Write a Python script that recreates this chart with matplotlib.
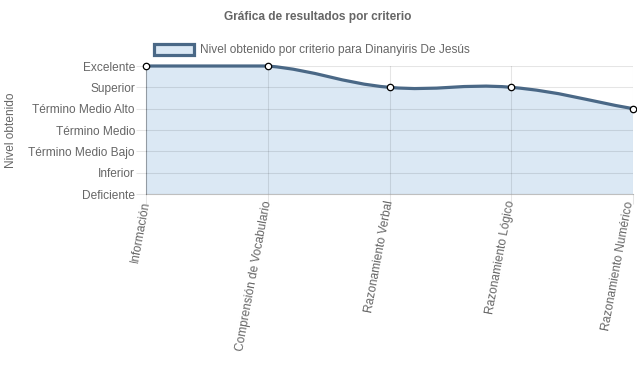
import numpy as np
import matplotlib
matplotlib.use('Agg')
import matplotlib.pyplot as plt
from matplotlib.path import Path
from matplotlib.patches import PathPatch, Patch
from matplotlib.transforms import ScaledTranslation

plt.rcParams['font.family'] = ['Liberation Sans', 'DejaVu Sans']

# datos
criterios = ['Información', 'Comprensión de Vocabulario', 'Razonamiento Verbal',
             'Razonamiento Lógico', 'Razonamiento Numérico']
niveles = ['Deficiente', 'Inferior', 'Término Medio Bajo', 'Término Medio',
           'Término Medio Alto', 'Superior', 'Excelente']
valores = [7, 7, 6, 6, 5]
titulo = 'Gráfica de resultados por criterio'
etiqueta = 'Nivel obtenido por criterio para Dinanyiris De Jesús'

linea = '#4a6886'
relleno = '#dbe8f4'
gris = '#666666'

W, H = 637, 389
fig = plt.figure(figsize=(W / 100, H / 100), dpi=100)
ax = fig.add_axes([146 / W, 1 - 194 / H, (633 - 146) / W, (194 - 66) / H])

x = np.arange(len(valores), dtype=float)
y = np.array(valores, dtype=float)
ax.set_xlim(0, len(x) - 1)
ax.set_ylim(1, len(niveles))

# curva tipo Chart.js (tension 0.4), calculada en pixeles
sx = (633 - 146) / (len(x) - 1)
sy = (194 - 66) / (len(niveles) - 1)
px, py = x * sx, y * sy
t = 0.4
ctrl_prev, ctrl_next = [], []
for i in range(len(x)):
    a = max(i - 1, 0)
    b = min(i + 1, len(x) - 1)
    d01 = np.hypot(px[i] - px[a], py[i] - py[a])
    d12 = np.hypot(px[b] - px[i], py[b] - py[i])
    s01 = d01 / (d01 + d12) if d01 + d12 else 0
    s12 = d12 / (d01 + d12) if d01 + d12 else 0
    dx, dy = px[b] - px[a], py[b] - py[a]
    pp = (px[i] - t * s01 * dx, py[i] - t * s01 * dy)
    pn = (px[i] + t * s12 * dx, py[i] + t * s12 * dy)
    ctrl_prev.append((pp[0] / sx, min(max(pp[1] / sy, 1), len(niveles))))
    ctrl_next.append((pn[0] / sx, min(max(pn[1] / sy, 1), len(niveles))))

verts = [(x[0], y[0])]
codes = [Path.MOVETO]
for i in range(len(x) - 1):
    verts += [ctrl_next[i], ctrl_prev[i + 1], (x[i + 1], y[i + 1])]
    codes += [Path.CURVE4] * 3

fverts = verts + [(x[-1], 1), (x[0], 1), (x[0], y[0])]
fcodes = codes + [Path.LINETO, Path.LINETO, Path.CLOSEPOLY]
ax.add_patch(PathPatch(Path(fverts, fcodes), facecolor=relleno, edgecolor='none', zorder=1))
ax.add_patch(PathPatch(Path(verts, codes), facecolor='none', edgecolor=linea,
                       lw=2.3, zorder=3, clip_on=False))
ax.plot(x, y, 'o', ms=4.6, mfc='white', mec='black', mew=0.9, zorder=4, clip_on=False)

ax.set_yticks(range(1, len(niveles) + 1))
ax.set_yticklabels(niveles)
ax.set_xticks(x)
ax.set_xticklabels(criterios, rotation=79.5, ha='right', va='center', rotation_mode='anchor')
ax.grid(True, color='black', alpha=0.1, lw=0.8, zorder=2)
ax.set_axisbelow(False)
ax.tick_params(axis='both', colors=(0, 0, 0, 0.1), labelcolor=gris, labelsize=8.6, length=7, width=0.8)
ax.tick_params(axis='x', pad=-2)
ax.tick_params(axis='y', pad=1)
for s in ['top', 'right']:
    ax.spines[s].set_visible(False)
for s in ['left', 'bottom']:
    ax.spines[s].set_color((0, 0, 0, 0.25))
    ax.spines[s].set_linewidth(0.8)

# la ultima etiqueta se corre un poco para no salirse del borde
ultima = ax.get_xticklabels()[-1]
ultima.set_transform(ultima.get_transform() + ScaledTranslation(-3 / 100, 0, fig.dpi_scale_trans))

ax.set_ylabel('Nivel obtenido', color=gris, fontsize=8.6)
ax.yaxis.set_label_coords((17 - 146) / (633 - 146), 0.5)

fig.text(318 / W, 1 - 17 / H, titulo, ha='center', va='center',
         fontsize=8.6, fontweight='bold', color=gris)

leg = ax.legend(handles=[Patch(facecolor=relleno, edgecolor=linea, lw=2.3, label=etiqueta)],
                loc='center', bbox_to_anchor=(312 / W, 1 - 50 / H),
                bbox_transform=fig.transFigure, frameon=False, fontsize=8.6,
                handlelength=3.3, handleheight=1.15, handletextpad=0.5)
for txt in leg.get_texts():
    txt.set_color(gris)

fig.savefig('out.png', dpi=100)
